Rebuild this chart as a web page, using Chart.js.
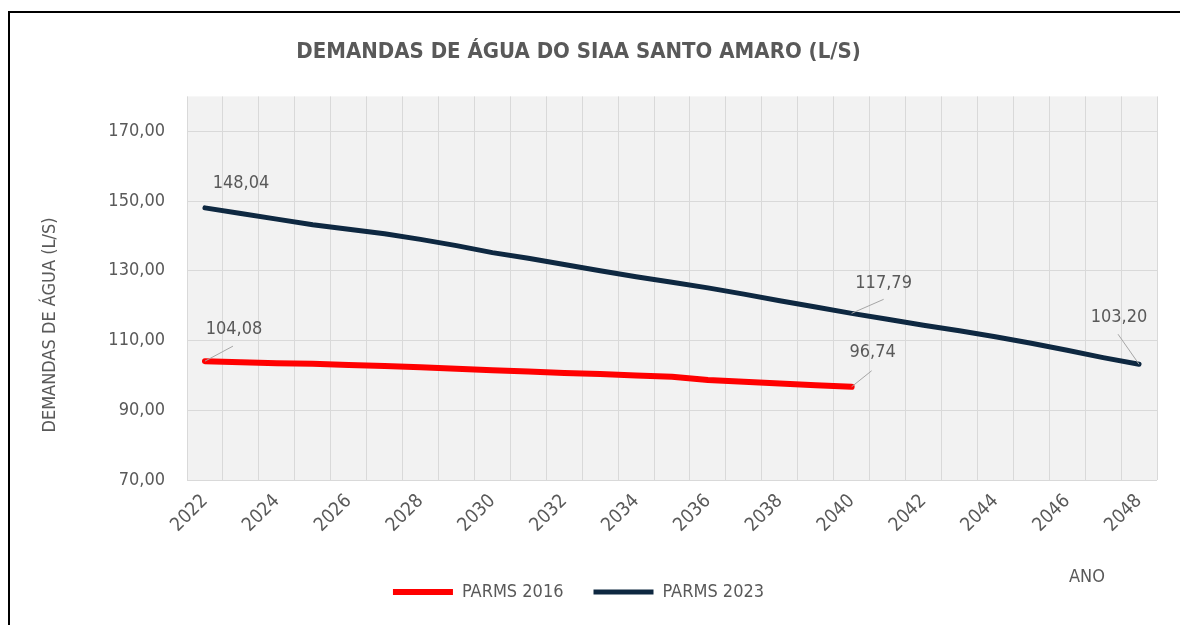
<!DOCTYPE html>
<html>
<head>
<meta charset="utf-8">
<script src="https://cdn.jsdelivr.net/npm/chart.js@4.4.1/dist/chart.umd.min.js"></script>
<style>
    body { margin: 0; background: #fff; }
    #wrap { position: relative; width: 1180px; height: 625px; }
    #frame { position: absolute; left: 8px; top: 11px; right: 0; bottom: 0; border-left: 2px solid #000; border-top: 2px solid #000; pointer-events: none; }
</style>
</head>
<body>
<div id="wrap">
    <canvas id="chart"></canvas>
    <div id="frame"></div>
</div>
<script>
const years = ['2022','2023','2024','2025','2026','2027','2028','2029','2030','2031','2032','2033','2034',
               '2035','2036','2037','2038','2039','2040','2041','2042','2043','2044','2045','2046','2047','2048'];
const parms2016 = [104.08, 103.8, 103.5, 103.3, 103.0, 102.7, 102.3, 101.9, 101.5, 101.1,
                   100.7, 100.4, 100.0, 99.6, 98.7, 98.2, 97.7, 97.2, 96.74];
const parms2023 = [148.04, 146.4, 144.8, 143.2, 141.9, 140.6, 139.0, 137.2, 135.2, 133.6,
                   131.8, 130.0, 128.3, 126.7, 125.1, 123.3, 121.4, 119.6, 117.79,
                   116.1, 114.4, 112.8, 111.1, 109.2, 107.2, 105.1, 103.20];
const yTicks = [70, 90, 110, 130, 150, 170];

const FONT = "'Liberation Sans Narrow', 'Arial Narrow', 'DejaVu Sans Condensed', sans-serif";
const GREY = '#595959';

// which points get a value label, and where it sits relative to the point
const callouts = [
    { ds: 1, i: 0,  dx: 36,  dy: -25, leader: null },
    { ds: 0, i: 0,  dx: 29,  dy: -32, leader: [28, -15] },
    { ds: 1, i: 18, dx: 32,  dy: -30, leader: [32, -14] },
    { ds: 0, i: 18, dx: 21,  dy: -34, leader: [20, -16] },
    { ds: 1, i: 26, dx: -20, dy: -47, leader: [-21, -30] }
];

const fmt = v => v.toFixed(2).replace('.', ',');

const extras = {
    id: 'extras',
    beforeDraw(chart) {
        const a = chart.chartArea, c = chart.ctx;
        c.save();
        c.fillStyle = '#f2f2f2';
        c.fillRect(a.left, a.top, a.right - a.left, a.bottom - a.top);
        c.restore();
    },
    afterDatasetsDraw(chart) {
        const c = chart.ctx, a = chart.chartArea;
        c.save();
        c.font = '18px ' + FONT;
        c.textAlign = 'center';
        c.textBaseline = 'middle';
        callouts.forEach(o => {
            const pt = chart.getDatasetMeta(o.ds).data[o.i];
            const v = chart.data.datasets[o.ds].data[o.i];
            if (o.leader) {
                c.strokeStyle = '#a6a6a6';
                c.lineWidth = 1;
                c.beginPath();
                c.moveTo(pt.x, pt.y);
                c.lineTo(pt.x + o.leader[0], pt.y + o.leader[1]);
                c.stroke();
            }
            c.fillStyle = GREY;
            c.fillText(fmt(v), pt.x + o.dx, pt.y + o.dy);
        });
        // axis titles
        c.fillText('ANO', a.right - 70, a.bottom + 97);
        c.translate(50, 325);
        c.rotate(-Math.PI / 2);
        c.fillText('DEMANDAS DE ÁGUA (L/S)', 0, 0);
        c.restore();
    }
};

const ctx = document.getElementById('chart').getContext('2d');
new Chart(ctx, {
    type: 'line',
    data: {
        labels: years,
        datasets: [
            {
                label: 'PARMS 2016',
                data: parms2016,
                borderColor: '#ff0000',
                backgroundColor: '#ff0000',
                borderWidth: 6,
                borderCapStyle: 'round',
                borderJoinStyle: 'round',
                pointRadius: 0,
                tension: 0
            },
            {
                label: 'PARMS 2023',
                data: parms2023,
                borderColor: '#0e2841',
                backgroundColor: '#0e2841',
                borderWidth: 5,
                borderCapStyle: 'round',
                borderJoinStyle: 'round',
                pointRadius: 0,
                tension: 0
            }
        ]
    },
    options: {
        responsive: true,
        maintainAspectRatio: false,
        animation: false,
        layout: { padding: { left: 0, right: 23, top: 0, bottom: 14 } },
        plugins: {
            title: {
                display: true,
                text: 'DEMANDAS DE ÁGUA DO SIAA SANTO AMARO (L/S)',
                color: GREY,
                font: { family: FONT, size: 22, weight: 'bold' },
                padding: { top: 39, bottom: 31 }
            },
            legend: {
                position: 'bottom',
                labels: {
                    usePointStyle: true,
                    pointStyle: 'line',
                    pointStyleWidth: 60,
                    color: GREY,
                    padding: 30,
                    font: { family: FONT, size: 18 }
                }
            },
            tooltip: { enabled: false }
        },
        scales: {
            x: {
                offset: true,
                grid: { offset: true, color: '#d9d9d9', drawTicks: false },
                border: { display: false },
                ticks: {
                    autoSkip: false,
                    maxRotation: 45,
                    minRotation: 45,
                    padding: 10,
                    color: GREY,
                    font: { family: FONT, size: 19 },
                    callback: function (val, idx) { return idx % 2 === 0 ? this.getLabelForValue(val) : ''; }
                },
                afterFit(scale) { scale.height = 73; }
            },
            y: {
                min: 70,
                max: 180,
                grid: { color: '#d9d9d9', drawTicks: false },
                border: { display: false },
                afterBuildTicks(scale) { scale.ticks = yTicks.map(v => ({ value: v })); },
                ticks: {
                    padding: 22,
                    color: GREY,
                    font: { family: FONT, size: 18 },
                    callback: v => fmt(v)
                },
                afterFit(scale) { scale.width = 187; }
            }
        }
    },
    plugins: [extras]
});
</script>
</body>
</html>
